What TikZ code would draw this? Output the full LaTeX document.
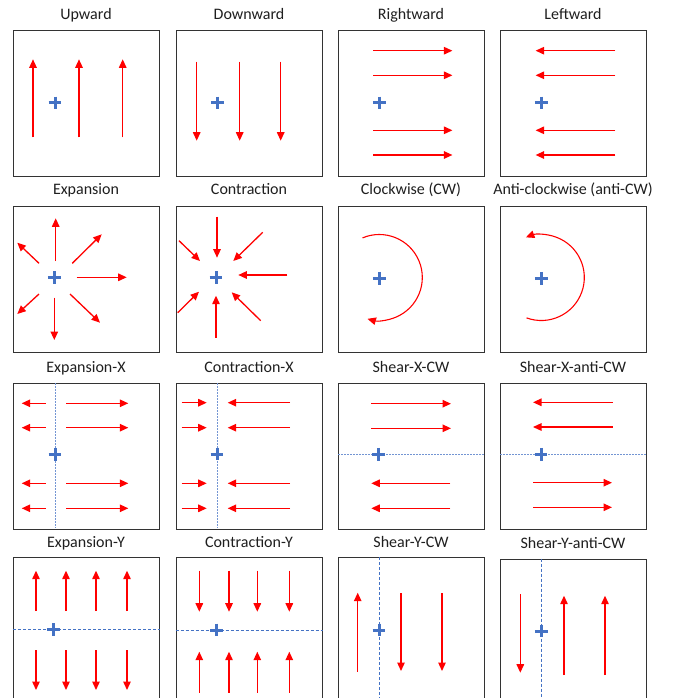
\documentclass[tikz,border=0pt]{standalone}
\usepackage{fontspec}
\setmainfont{Carlito}
\usetikzlibrary{arrows.meta}
\definecolor{arrred}{HTML}{FF0000}
\definecolor{plusblue}{HTML}{4472C4}
\definecolor{boxgray}{HTML}{333333}
\definecolor{titlegray}{HTML}{1F1F1F}
\begin{document}
\begin{tikzpicture}[x=1pt,y=-1pt,
  panel/.style={draw=boxgray, line width=1.2pt, minimum width=146pt, minimum height=146pt, inner sep=0pt, anchor=north west},
  ttl/.style={anchor=base, inner sep=0pt, text=titlegray, font=\fontsize{16pt}{19pt}\selectfont},
  arr/.style={arrred, line width=1.3pt, -{Triangle[length=8.5pt,width=7.5pt]}},
  dotax/.style={plusblue!75, line width=1pt, dash pattern=on 1.5pt off 1.5pt},
  dashax/.style={plusblue, line width=0.9pt, dash pattern=on 3pt off 2pt},
  plusmark/.pic={\draw[plusblue,line width=3pt] (-6.4,0)--(6.4,0) (0,-6.4)--(0,6.4);}
]
\useasboundingbox (0,0) rectangle (677,698);
\clip (0,0) rectangle (677,698);
\fill[white] (0,0) rectangle (677,698);

% ---------- Row 1 ----------
\node[panel] (b11) at (13,30) {};
\node[panel] (b12) at (176,30) {};
\node[panel] (b13) at (338,30) {};
\node[panel] (b14) at (500,30) {};
\node[ttl] (t11) at (86,20) {Upward};
\node[ttl] (t12) at (249,20) {Downward};
\node[ttl] (t13) at (411,20) {Rightward};
\node[ttl] (t14) at (573,20) {Leftward};

\pic at (55,103) {plusmark};
\pic at (217.3,103) {plusmark};
\pic at (379.3,103) {plusmark};
\pic at (541.3,103) {plusmark};

% Upward
\foreach \x in {33,79,122.7} \draw[arr] (\x,137.3) -- (\x,59.3);
% Downward
\foreach \x in {196.7,239.7,280.7} \draw[arr] (\x,61.7) -- (\x,140.7);
% Rightward
\foreach \y in {50.7,75.3,130.3,155} \draw[arr] (373.2,\y) -- (452.4,\y);
% Leftward
\foreach \y in {50.7,75.3,130.3,155} \draw[arr] (615.3,\y) -- (535.6,\y);

% ---------- Row 2 ----------
\node[panel] (b21) at (13,206) {};
\node[panel] (b22) at (176,206) {};
\node[panel] (b23) at (338,206) {};
\node[panel] (b24) at (500,206) {};
\node[ttl] (t21) at (86,194.5) {Expansion};
\node[ttl] (t22) at (249,194.5) {Contraction};
\node[ttl] (t23) at (411,194.5) {Clockwise (CW)};
\node[ttl] (t24) at (573,194.5) {Anti-clockwise (anti-CW)};

\pic at (54.3,277.7) {plusmark};
\pic at (216,277.7) {plusmark};
\pic at (379.3,278.3) {plusmark};
\pic at (541.3,278.3) {plusmark};

% Expansion
\draw[arr] (55.7,261) -- (55.7,218.3);
\draw[arr] (54.3,297.7) -- (54.3,340);
\draw[arr] (76.7,277.3) -- (126.7,277.3);
\draw[arr] (72.3,263.3) -- (101.7,234.3);
\draw[arr] (39,263.3) -- (17.3,242.7);
\draw[arr] (39,294) -- (17.3,314);
\draw[arr] (70,294) -- (100,322.7);
% Contraction
\draw[arr] (217,216.7) -- (217,257.7);
\draw[arr] (216,337.7) -- (216,295.7);
\draw[arr] (287.3,275) -- (238.3,275);
\draw[arr] (262.7,232.3) -- (233.3,261);
\draw[arr] (179,240.7) -- (200,261);
\draw[arr] (177.7,312.7) -- (199,291.7);
\draw[arr] (260.7,320.7) -- (231.7,292.3);
% Clockwise
\draw[arrred, line width=1.1pt, -{Triangle[length=8.5pt,width=7.5pt]}]
  (379.3,277.5) ++(-113:43) arc[start angle=-113, end angle=106, radius=43];
% Anti-clockwise
\draw[arrred, line width=1.1pt, -{Triangle[length=8.5pt,width=7.5pt]}]
  (541.3,277.5) ++(110:43) arc[start angle=110, end angle=-111, radius=43];

% ---------- Row 3 ----------
\node[panel] (b31) at (13,383) {};
\node[panel] (b32) at (176,383) {};
\node[panel] (b33) at (338,383) {};
\node[panel] (b34) at (500,383) {};
\node[ttl] (t31) at (86,372.5) {Expansion-X};
\node[ttl] (t32) at (249,372.5) {Contraction-X};
\node[ttl] (t33) at (411,372.5) {Shear-X-CW};
\node[ttl] (t34) at (573,372.5) {Shear-X-anti-CW};

\draw[dotax] (55.7,383) -- (55.7,528);
\draw[dotax] (217,383) -- (217,528);
\draw[dotax] (338,454.3) -- (484,454.3);
\draw[dotax] (500,454.3) -- (646,454.3);

\pic at (55,454.3) {plusmark};
\pic at (217,454) {plusmark};
\pic at (378.7,454.3) {plusmark};
\pic at (541,454.3) {plusmark};

% Expansion-X
\foreach \y in {403.3,427.7,483.3,508.3} {
  \draw[arr] (45.7,\y) -- (21.7,\y);
  \draw[arr] (66,\y) -- (128.3,\y);
}
% Contraction-X
\foreach \y in {402.7,427.7,483.3,508.3} {
  \draw[arr] (181.7,\y) -- (206.7,\y);
  \draw[arr] (290,\y) -- (227.7,\y);
}
% Shear-X-CW
\foreach \y in {403.7,428.3} \draw[arr] (371.3,\y) -- (451,\y);
\foreach \y in {483.3,508.3} \draw[arr] (450.3,\y) -- (371.3,\y);
% Shear-X-anti-CW
\foreach \y in {402.3,427} \draw[arr] (612.7,\y) -- (533,\y);
\foreach \y in {482.7,507.3} \draw[arr] (533,\y) -- (612,\y);

% ---------- Row 4 ----------
\node[panel] (b41) at (13,557) {};
\node[panel] (b42) at (176,557) {};
\node[panel] (b43) at (338,557) {};
\node[panel] (b44) at (500,558.5) {};
\node[ttl] (t41) at (86,547.3) {Expansion-Y};
\node[ttl] (t42) at (249,547.3) {Contraction-Y};
\node[ttl] (t43) at (411,547.3) {Shear-Y-CW};
\node[ttl] (t44) at (573,548.3) {Shear-Y-anti-CW};

\draw[dashax] (13.3,629) -- (160,629);
\draw[dashax] (175.7,630) -- (323.3,630);
\draw[dashax] (379,557) -- (379,698);
\draw[dashax] (541.3,558.5) -- (541.3,698);

\pic at (53.3,629.5) {plusmark};
\pic at (216.7,630) {plusmark};
\pic at (379,630) {plusmark};
\pic at (541.3,631) {plusmark};

% Expansion-Y
\foreach \x in {36,66,96,127} {
  \draw[arr] (\x,611) -- (\x,570.7);
  \draw[arr] (\x,650) -- (\x,690);
}
% Contraction-Y
\foreach \x in {199.3,229,257.3,289.3} {
  \draw[arr] (\x,570.7) -- (\x,611.7);
  \draw[arr] (\x,692.7) -- (\x,651.7);
}
% Shear-Y-CW
\draw[arr] (357.7,671.7) -- (357.7,592.7);
\draw[arr] (401,593.3) -- (401,671);
\draw[arr] (442,593.3) -- (442,671);
% Shear-Y-anti-CW
\draw[arr] (520.3,594.3) -- (520.3,672.7);
\draw[arr] (564,675) -- (564,595.7);
\draw[arr] (605,675) -- (605,595.7);
\end{tikzpicture}
\end{document}
